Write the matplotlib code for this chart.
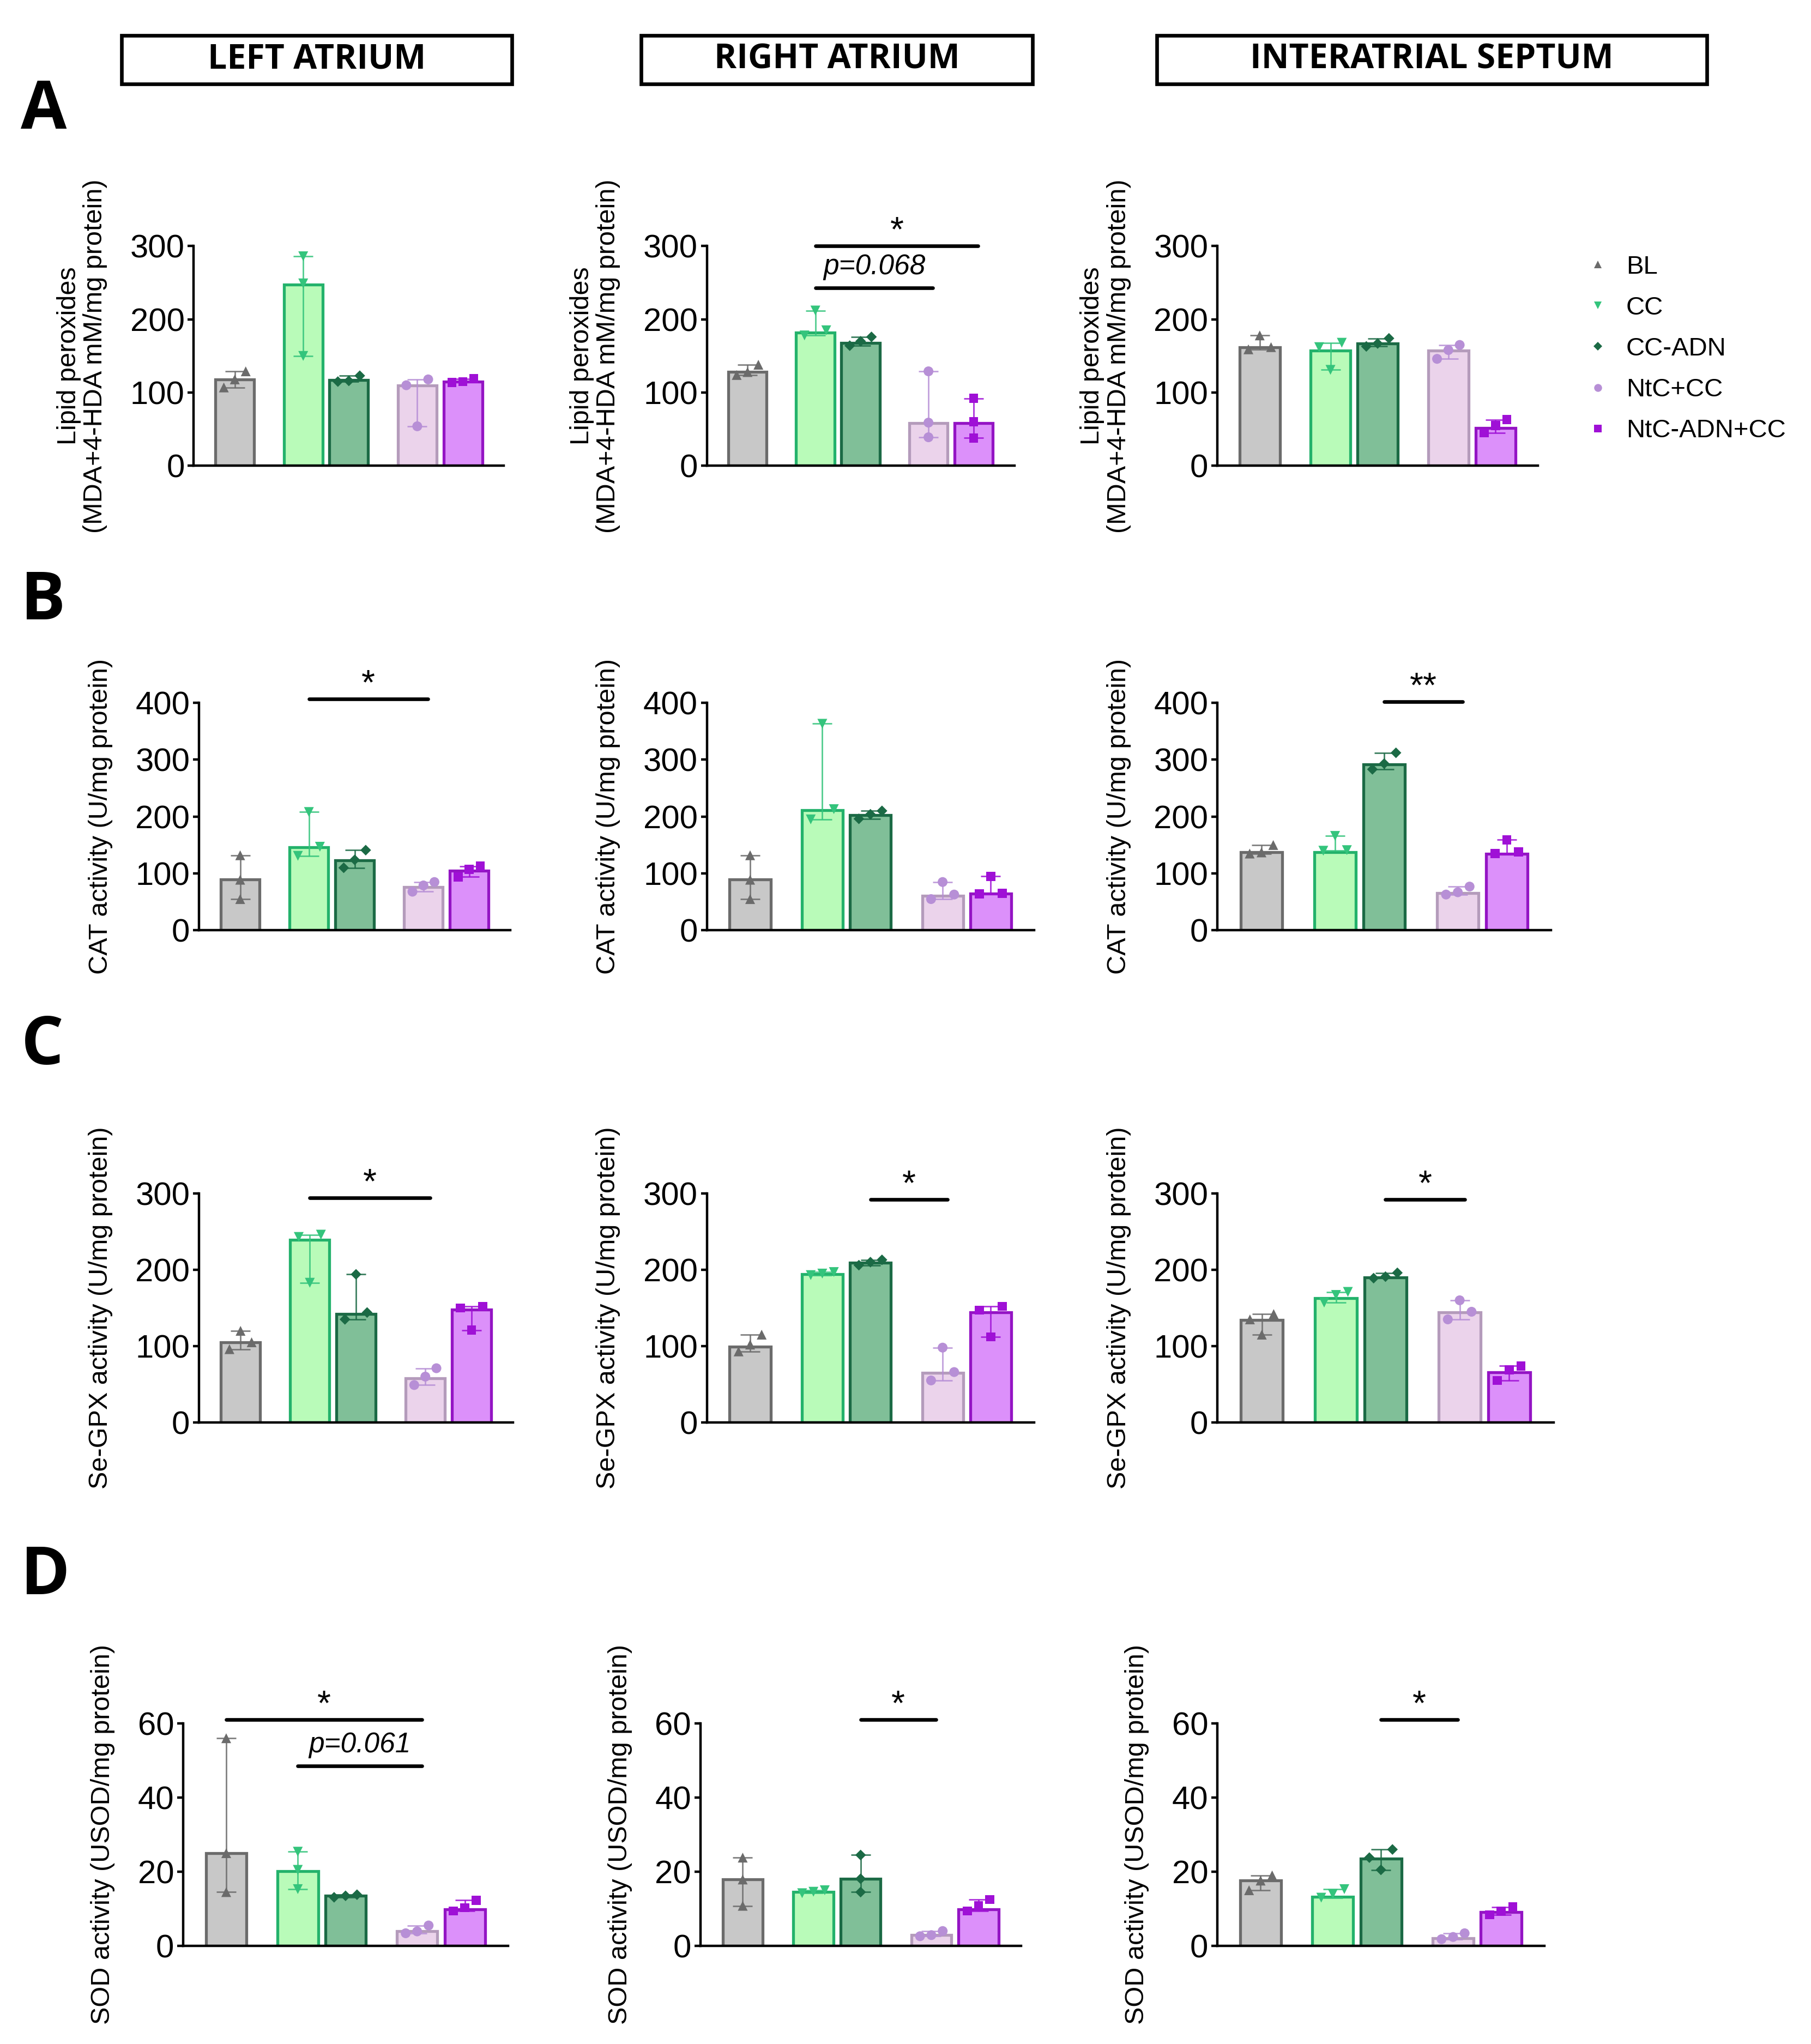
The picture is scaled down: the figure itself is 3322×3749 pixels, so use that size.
import matplotlib
matplotlib.use('Agg')
import matplotlib.pyplot as plt
from matplotlib.lines import Line2D
from matplotlib.patches import Rectangle
import numpy as np

plt.rcParams['font.family'] = ['Liberation Sans', 'DejaVu Sans']

# groups and panel text
groups = ['BL', 'CC', 'CC-ADN', 'NtC+CC', 'NtC-ADN+CC']
regions = ['LEFT ATRIUM', 'RIGHT ATRIUM', 'INTERATRIAL SEPTUM']
row_letters = ['A', 'B', 'C', 'D']
ylabels = ['Lipid peroxides\n(MDA+4-HDA mM/mg protein)',
           'CAT activity (U/mg protein)',
           'Se-GPX activity (U/mg protein)',
           'SOD activity (USOD/mg protein)']
yticks_rows = [[0, 100, 200, 300], [0, 100, 200, 300, 400],
               [0, 100, 200, 300], [0, 20, 40, 60]]

# bar heights and the three animals per group
lipid_la_bar = [118, 247, 117, 110, 115]
lipid_la_pts = [[129, 118, 107], [286, 249, 150], [123, 116, 115], [118, 110, 54], [119, 115, 114]]
lipid_ra_bar = [128, 182, 168, 58, 58]
lipid_ra_pts = [[138, 128, 124], [212, 185, 178], [176, 170, 164], [129, 59, 39], [92, 60, 38]]
lipid_is_bar = [162, 157, 167, 157, 52]
lipid_is_pts = [[178, 162, 159], [168, 162, 131], [174, 167, 163], [165, 158, 146], [63, 55, 45]]

cat_la_bar = [90, 146, 123, 76, 105]
cat_la_pts = [[132, 89, 55], [208, 147, 131], [141, 124, 110], [85, 79, 68], [113, 107, 94]]
cat_ra_bar = [90, 211, 203, 61, 65]
cat_ra_pts = [[132, 89, 55], [363, 213, 195], [210, 204, 196], [85, 63, 55], [95, 65, 64]]
cat_is_bar = [137, 137, 292, 66, 135]
cat_is_pts = [[150, 137, 135], [166, 141, 140], [312, 293, 283], [77, 67, 63], [159, 138, 135]]

gpx_la_bar = [105, 239, 142, 58, 148]
gpx_la_pts = [[120, 105, 96], [246, 243, 183], [194, 144, 135], [71, 60, 49], [152, 150, 121]]
gpx_ra_bar = [99, 194, 209, 65, 144]
gpx_ra_pts = [[115, 102, 93], [197, 195, 193], [213, 210, 206], [98, 66, 55], [152, 147, 112]]
gpx_is_bar = [134, 163, 190, 144, 66]
gpx_is_pts = [[142, 135, 115], [171, 167, 157], [196, 191, 189], [160, 145, 135], [74, 69, 55]]

sod_la_bar = [25, 20.1, 13.5, 3.9, 9.8]
sod_la_pts = [[56, 25, 14.5], [25.4, 20.5, 15.3], [13.8, 13.5, 13.1], [5.5, 3.9, 3.4], [12.3, 10.3, 9.4]]
sod_ra_bar = [17.9, 14.5, 18.1, 2.9, 9.8]
sod_ra_pts = [[23.8, 17.9, 10.8], [15.0, 14.6, 14.2], [24.5, 18.1, 14.5], [4.0, 2.9, 2.6], [12.5, 10.8, 9.4]]
sod_is_bar = [17.6, 13.3, 23.6, 2.0, 9.1]
sod_is_pts = [[19, 17.6, 15], [15.3, 14, 13], [26, 23.8, 20.5], [3.4, 2.4, 1.8], [10.5, 9.3, 8.4]]

# significance: (group from, group to, height, label)
sig_lipid_ra = [(1, 4, 300, '*'), (1, 3, 243, 'p=0.068')]
sig_cat_la = [(1, 3, 407, '*')]
sig_cat_is = [(2, 3, 402, '**')]
sig_gpx_la = [(1, 3, 294, '*')]
sig_gpx_ra = [(2, 3, 292, '*')]
sig_gpx_is = [(2, 3, 292, '*')]
sig_sod_la = [(0, 3, 61, '*'), (1, 3, 48.5, 'p=0.061')]
sig_sod_ra = [(2, 3, 61, '*')]
sig_sod_is = [(2, 3, 61, '*')]

panels = [
    [(lipid_la_bar, lipid_la_pts, []), (lipid_ra_bar, lipid_ra_pts, sig_lipid_ra), (lipid_is_bar, lipid_is_pts, [])],
    [(cat_la_bar, cat_la_pts, sig_cat_la), (cat_ra_bar, cat_ra_pts, []), (cat_is_bar, cat_is_pts, sig_cat_is)],
    [(gpx_la_bar, gpx_la_pts, sig_gpx_la), (gpx_ra_bar, gpx_ra_pts, sig_gpx_ra), (gpx_is_bar, gpx_is_pts, sig_gpx_is)],
    [(sod_la_bar, sod_la_pts, sig_sod_la), (sod_ra_bar, sod_ra_pts, sig_sod_ra), (sod_is_bar, sod_is_pts, sig_sod_is)],
]

# styles
xpos = [0, 1.5, 2.5, 4.0, 5.0]
face_cols = ['#c8c8c8', '#b9fbb9', '#80bf98', '#ebd3eb', '#dc90fa']
edge_cols = ['#6b6b6b', '#23b26b', '#1b6a45', '#b49bbb', '#9414c4']
mark_cols = ['#6b6b6b', '#34c47c', '#1b6a45', '#b78fd6', '#9f10d6']
markers = ['^', 'v', 'D', 'o', 's']
msizes = [6.5, 6.5, 5, 6.5, 6]

W, H = 1384.0, 1562.0
row_y = [(188, 356), (537, 711), (912, 1087), (1317, 1487)]
col_x = [[(148, 385), (540, 775), (930, 1175)],
         [(152, 390), (540, 790), (930, 1185)],
         [(152, 392), (540, 790), (930, 1187)],
         [(140, 388), (535, 780), (930, 1180)]]


def swarm_offsets(vals, ymax):
    vals = np.asarray(vals, dtype=float)
    order = np.argsort(vals)
    offs = np.zeros(len(vals))
    clusters = [[order[0]]]
    for k in order[1:]:
        if vals[k] - vals[clusters[-1][-1]] < 0.05 * ymax:
            clusters[-1].append(k)
        else:
            clusters.append([k])
    for c in clusters:
        if len(c) > 1:
            spread = np.linspace(-0.24, 0.24, len(c))
            for k, o in zip(c, spread):
                offs[k] = o
    return offs


fig = plt.figure(figsize=(3323 / 200, 3749 / 200), dpi=200)

for r in range(4):
    y_top, y_bot = row_y[r]
    ymax = yticks_rows[r][-1]
    for c in range(3):
        x_l, x_r = col_x[r][c]
        ax = fig.add_axes([x_l / W, 1 - y_bot / H, (x_r - x_l) / W, (y_bot - y_top) / H])
        bars, pts, sigs = panels[r][c]
        for g in range(5):
            ax.bar(xpos[g], bars[g], width=0.85, color=face_cols[g], edgecolor=edge_cols[g],
                   linewidth=1.9, zorder=2)
            p = np.asarray(pts[g], dtype=float)
            # range bar (min to max of the animals)
            mid = (p.min() + p.max()) / 2
            ax.errorbar(xpos[g], mid, yerr=(p.max() - p.min()) / 2,
                        fmt='none', ecolor=mark_cols[g], elinewidth=1.0, capsize=6.5,
                        capthick=1.0, alpha=0.85, zorder=3)
            offs = swarm_offsets(p, ymax)
            ax.scatter(xpos[g] + offs, p, marker=markers[g], s=msizes[g] ** 2,
                       color=mark_cols[g], edgecolor='none', zorder=4)
        for (i, j, yv, lab) in sigs:
            ax.plot([xpos[i], xpos[j] + 0.1], [yv, yv], color='black', lw=2.4,
                    solid_capstyle='round', clip_on=False, zorder=5)
            xm = (xpos[i] + xpos[j] + 0.1) / 2
            if lab.startswith('p'):
                ax.text(xm, yv + 0.035 * ymax, lab, ha='center', va='bottom',
                        fontsize=18.5, style='italic', clip_on=False)
            else:
                ax.text(xm, yv - 0.01 * ymax, lab, ha='center', va='bottom',
                        fontsize=23, clip_on=False)
        ax.set_xlim(-0.9, 5.9)
        ax.set_ylim(0, ymax)
        ax.set_yticks(yticks_rows[r])
        ax.set_xticks([])
        for s in ['top', 'right']:
            ax.spines[s].set_visible(False)
        for s in ['left', 'bottom']:
            ax.spines[s].set_linewidth(1.6)
        ax.tick_params(axis='y', length=4, width=1.6, labelsize=21.5, pad=2)
        ax.set_ylabel(ylabels[r], fontsize=17.5, labelpad=15, linespacing=1.1)

# region headers in boxes
hdr_x = [(93, 391), (490, 789), (884, 1304)]
for (x0, x1), name in zip(hdr_x, regions):
    fig.patches.append(Rectangle((x0 / W, 1 - 64 / H), (x1 - x0) / W, 37 / H,
                                 transform=fig.transFigure, fill=False,
                                 edgecolor='black', linewidth=2.4))
    fig.text((x0 + x1) / 2 / W, 1 - 45.5 / H, name, ha='center', va='center',
             fontsize=22.5, fontweight='bold', family=['Open Sans', 'DejaVu Sans'])

letter_y = [85, 460, 800, 1205]
for lt, yy in zip(row_letters, letter_y):
    fig.text(16 / W, 1 - yy / H, lt, ha='left', va='center', fontsize=44,
             fontweight='bold', family=['Open Sans', 'DejaVu Sans'])

handles = [Line2D([], [], ls='none', marker=markers[g], color=mark_cols[g],
                  markersize=msizes[g] * 0.8, markeredgewidth=0) for g in range(5)]
fig.legend(handles, groups, loc='upper left', bbox_to_anchor=(1205 / W, 1 - 185 / H),
           frameon=False, fontsize=17, handlelength=0.6, handletextpad=0.8,
           labelspacing=0.66, borderpad=0)

fig.savefig('out.png', dpi=200)
